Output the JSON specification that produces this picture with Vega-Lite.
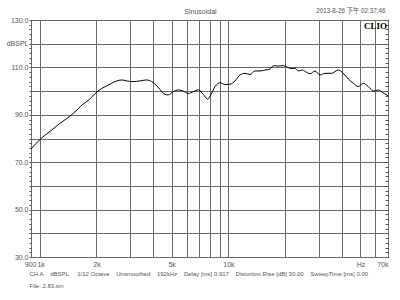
{
  "$schema": "https://vega.github.io/schema/vega-lite/v6.json",
  "width": 357,
  "height": 237,
  "autosize": {"type": "none"},
  "padding": {"left": 31, "top": 20, "right": 12, "bottom": 43},
  "background": "white",
  "title": {
    "text": "Sinusoidal",
    "anchor": "middle",
    "dx": -9,
    "offset": -8,
    "font": "Liberation Sans",
    "fontSize": 7,
    "fontWeight": "normal",
    "color": "#555555"
  },
  "config": {
    "view": {"stroke": "black", "strokeWidth": 1},
    "axis": {
      "domain": false,
      "labelFont": "Liberation Sans",
      "labelFontSize": 7,
      "labelColor": "#555555",
      "titleFont": "Liberation Sans, Noto Sans CJK SC",
      "titleFontSize": 7,
      "titleFontWeight": "normal",
      "titleColor": "#555555",
      "gridColor": "#6a6a6a",
      "gridWidth": 1,
      "tickColor": "#555555"
    }
  },
  "resolve": {"axis": {"x": "independent", "y": "independent"}},
  "layer": [
    {
      "data": {
        "values": [
          {"freq": 900, "dB": 75.6},
          {"freq": 1017, "dB": 80.0},
          {"freq": 1135, "dB": 83.0},
          {"freq": 1282, "dB": 86.4},
          {"freq": 1413, "dB": 88.8},
          {"freq": 1502, "dB": 90.5},
          {"freq": 1597, "dB": 92.5},
          {"freq": 1697, "dB": 94.5},
          {"freq": 1804, "dB": 96.0},
          {"freq": 1917, "dB": 98.0},
          {"freq": 2006, "dB": 99.6},
          {"freq": 2166, "dB": 101.4},
          {"freq": 2359, "dB": 102.9},
          {"freq": 2560, "dB": 104.3},
          {"freq": 2721, "dB": 104.7},
          {"freq": 2892, "dB": 104.3},
          {"freq": 3123, "dB": 104.0},
          {"freq": 3401, "dB": 104.3},
          {"freq": 3690, "dB": 104.7},
          {"freq": 3923, "dB": 104.0},
          {"freq": 4170, "dB": 102.3},
          {"freq": 4340, "dB": 100.7},
          {"freq": 4613, "dB": 98.6},
          {"freq": 4802, "dB": 98.4},
          {"freq": 5104, "dB": 99.8},
          {"freq": 5425, "dB": 100.5},
          {"freq": 5766, "dB": 100.0},
          {"freq": 6129, "dB": 99.0},
          {"freq": 6515, "dB": 99.8},
          {"freq": 6925, "dB": 100.5},
          {"freq": 7360, "dB": 98.6},
          {"freq": 7766, "dB": 96.6},
          {"freq": 8085, "dB": 98.6},
          {"freq": 8489, "dB": 101.9},
          {"freq": 9023, "dB": 103.5},
          {"freq": 9590, "dB": 102.8},
          {"freq": 10192, "dB": 102.9},
          {"freq": 10833, "dB": 104.3},
          {"freq": 11515, "dB": 106.8},
          {"freq": 12240, "dB": 107.5},
          {"freq": 13005, "dB": 107.0},
          {"freq": 13824, "dB": 108.5},
          {"freq": 14697, "dB": 108.5},
          {"freq": 15624, "dB": 108.9},
          {"freq": 16605, "dB": 109.3},
          {"freq": 17280, "dB": 110.7},
          {"freq": 18369, "dB": 110.6},
          {"freq": 19521, "dB": 110.7},
          {"freq": 20349, "dB": 110.3},
          {"freq": 21195, "dB": 109.6},
          {"freq": 22527, "dB": 109.6},
          {"freq": 23445, "dB": 108.5},
          {"freq": 24624, "dB": 108.9},
          {"freq": 25965, "dB": 107.9},
          {"freq": 27045, "dB": 107.3},
          {"freq": 28746, "dB": 108.5},
          {"freq": 30555, "dB": 106.8},
          {"freq": 32472, "dB": 107.5},
          {"freq": 35217, "dB": 107.5},
          {"freq": 38187, "dB": 108.9},
          {"freq": 40590, "dB": 107.5},
          {"freq": 43146, "dB": 105.1},
          {"freq": 45855, "dB": 103.3},
          {"freq": 48744, "dB": 101.9},
          {"freq": 51804, "dB": 103.3},
          {"freq": 55062, "dB": 101.9},
          {"freq": 58527, "dB": 100.0},
          {"freq": 62217, "dB": 100.5},
          {"freq": 65295, "dB": 99.5},
          {"freq": 70000, "dB": 98.0}
        ]
      },
      "mark": {"type": "line", "color": "black", "strokeWidth": 1, "interpolate": "monotone"},
      "encoding": {
        "x": {
          "field": "freq",
          "type": "quantitative",
          "scale": {"type": "log", "domain": [900, 70000], "nice": false},
          "axis": {
            "orient": "bottom",
            "values": [900, 1000, 2000, 3000, 4000, 5000, 6000, 7000, 8000, 9000, 10000, 20000, 30000, 40000, 50000, 60000, 70000],
            "labelExpr": "datum.value == 900 ? '900' : datum.value == 1000 ? '1k' : datum.value == 2000 ? '2k' : datum.value == 5000 ? '5k' : datum.value == 10000 ? '10k' : datum.value == 50000 ? 'Hz' : datum.value == 70000 ? '70k' : ''",
            "labelAlign": {"condition": [{"test": "datum.value == 70000", "value": "right"}, {"test": "datum.value == 900", "value": "right"}], "value": "center"},
            "labelOffset": {"condition": [{"test": "datum.value == 900", "value": 5}, {"test": "datum.value == 1000", "value": 1}], "value": 0},
            "labelFlush": false,
            "labelOverlap": false,
            "labelPadding": 3,
            "ticks": false,
            "grid": true,
            "title": ["CH A\u00a0\u00a0\u00a0\u00a0dBSPL\u00a0\u00a0\u00a0\u00a0\u00a01/12 Octave\u00a0\u00a0\u00a0\u00a0Unsmoothed\u00a0\u00a0\u00a0\u00a0192kHz\u00a0\u00a0\u00a0\u00a0Delay [ms] 0.917\u00a0\u00a0\u00a0\u00a0Distortion Rise [dB] 30.00\u00a0\u00a0\u00a0\u00a0SweepTime [ms] 0.00", "File: 2.83.sin"],
            "titleAnchor": "start",
            "titleAlign": "left",
            "titleX": -2,
            "titleFontSize": 6,
            "titleLineHeight": 12,
            "titlePadding": 3
          }
        },
        "y": {
          "field": "dB",
          "type": "quantitative",
          "scale": {"domain": [30, 130], "nice": false, "zero": false},
          "axis": {
            "orient": "left",
            "values": [30, 32, 34, 36, 38, 40, 42, 44, 46, 48, 50, 52, 54, 56, 58, 60, 62, 64, 66, 68, 70, 72, 74, 76, 78, 80, 82, 84, 86, 88, 90, 92, 94, 96, 98, 100, 102, 104, 106, 108, 110, 112, 114, 116, 118, 120, 122, 124, 126, 128, 130],
            "labelExpr": "datum.value == 120 ? 'dBSPL' : (datum.value % 20 == 10 ? format(datum.value, '.1f') : '')",
            "labelFlush": false,
            "labelOverlap": false,
            "labelPadding": 1,
            "tickSize": 2,
            "grid": true,
            "gridOpacity": {"condition": {"test": "datum.value % 10 == 0", "value": 1}, "value": 0},
            "title": null
          }
        }
      }
    },
    {
      "data": {"values": [{"label": "CLIO"}]},
      "mark": {"type": "text", "align": "right", "baseline": "top", "dx": -1, "dy": 2, "font": "Liberation Serif", "fontSize": 9, "fontWeight": "bold", "color": "black"},
      "encoding": {
        "x": {
          "datum": 70000,
          "type": "quantitative",
          "axis": {
            "orient": "top",
            "labels": false,
            "ticks": false,
            "grid": false,
            "title": "2013-8-26 下午 02:37:46",
            "titleAnchor": "end",
            "titleAlign": "right",
            "titleFontSize": 6.3,
            "titleX": 354,
            "titlePadding": 7
          }
        },
        "y": {
          "datum": 130,
          "type": "quantitative",
          "axis": {
            "orient": "right",
            "values": [30, 32, 34, 36, 38, 40, 42, 44, 46, 48, 50, 52, 54, 56, 58, 60, 62, 64, 66, 68, 70, 72, 74, 76, 78, 80, 82, 84, 86, 88, 90, 92, 94, 96, 98, 100, 102, 104, 106, 108, 110, 112, 114, 116, 118, 120, 122, 124, 126, 128, 130],
            "labels": false,
            "grid": false,
            "tickSize": -3,
            "title": null
          }
        },
        "text": {"field": "label"}
      }
    }
  ]
}
